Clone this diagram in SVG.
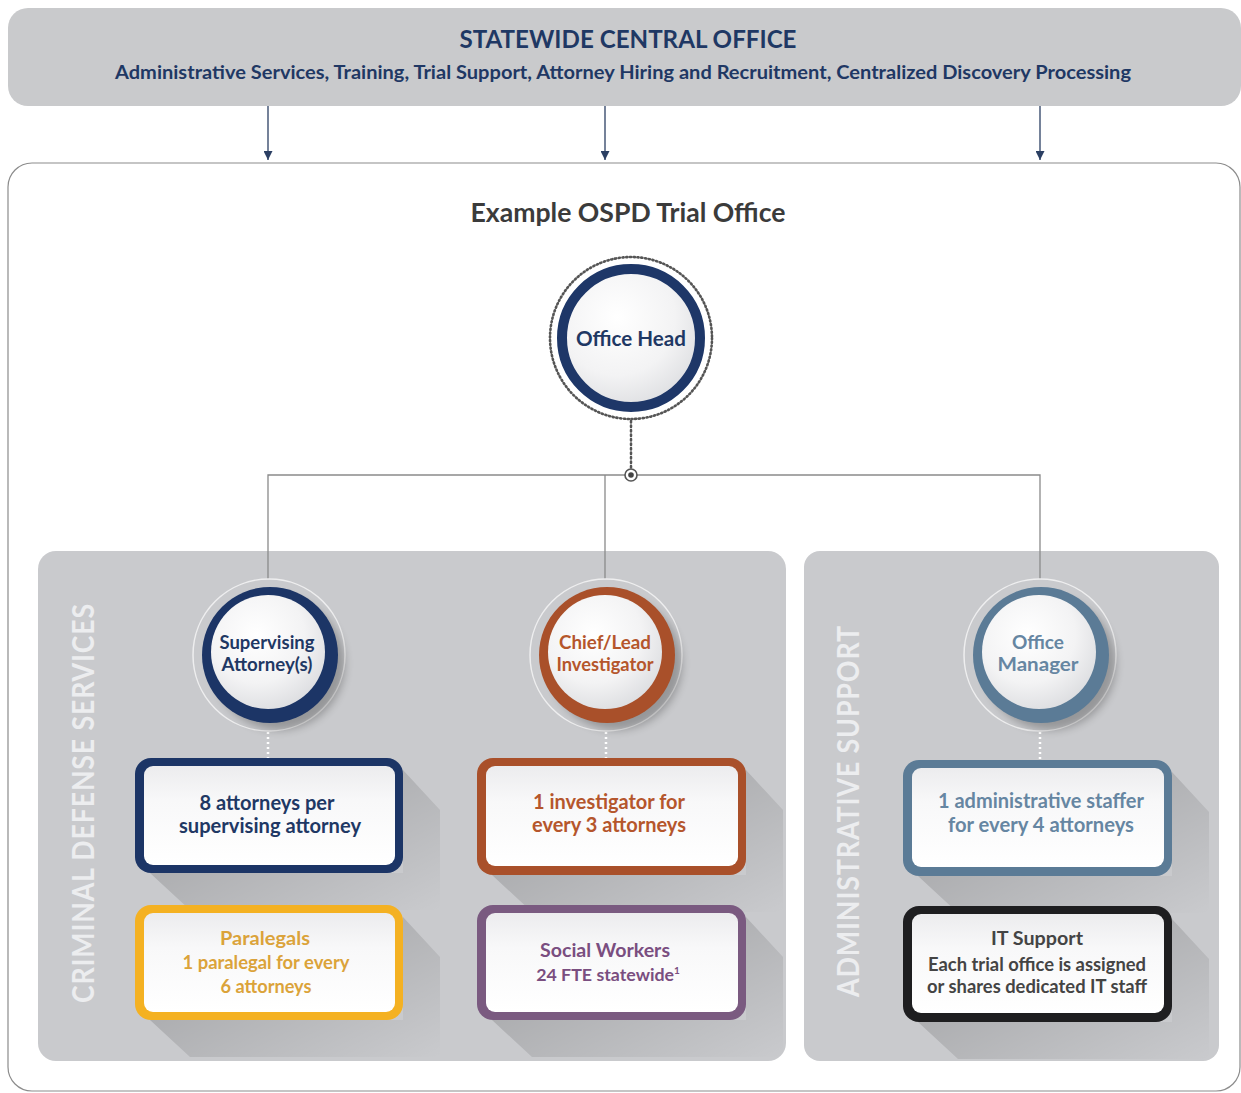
<svg xmlns="http://www.w3.org/2000/svg" width="1241" height="1093" viewBox="0 0 1241 1093">
<defs>
  <style>
    text { font-family: Lato, "Liberation Sans", sans-serif; font-weight: 700; text-anchor: middle; }
    .navy { fill: #1f3864; }
    .brown { fill: #b5562c; }
    .steel { fill: #6686a2; }
    .gold { fill: #dba33a; }
    .purple { fill: #7a4e80; }
    .dark { fill: #444444; }
    .vlabel { fill: #ecedef; font-size: 31px; letter-spacing: 1px; }
    .conn { stroke: #8a8a8a; stroke-width: 1.3; fill: none; }
    .wdot { stroke: #ffffff; stroke-width: 2.5; stroke-dasharray: 2 3; fill: none; }
    .ct { font-size: 18.5px; }
    .bt { font-size: 20px; }
    .ring { fill: #c9cacd; stroke: #eeeeef; stroke-width: 1.5; }
    .cshadow { fill: #000; opacity: 0.25; }
  </style>
  <marker id="arr" viewBox="0 0 10 10" refX="10" refY="5" markerWidth="9" markerHeight="9" orient="auto" markerUnits="userSpaceOnUse">
    <path d="M0,0 L10,5 L0,10 Z" fill="#2b3f63"/>
  </marker>
  <radialGradient id="face" cx="40%" cy="35%" r="70%">
    <stop offset="0" stop-color="#ffffff"/>
    <stop offset="0.6" stop-color="#f3f3f4"/>
    <stop offset="1" stop-color="#dcdde0"/>
  </radialGradient>
  <linearGradient id="boxface" x1="0" y1="0" x2="0" y2="1">
    <stop offset="0" stop-color="#ececee"/>
    <stop offset="0.35" stop-color="#f8f8f9"/>
    <stop offset="1" stop-color="#ffffff"/>
  </linearGradient>
  <linearGradient id="shade" x1="0" y1="0" x2="1" y2="1">
    <stop offset="0" stop-color="#000" stop-opacity="0.22"/>
    <stop offset="1" stop-color="#000" stop-opacity="0"/>
  </linearGradient>
  <filter id="blur" x="-30%" y="-30%" width="160%" height="160%">
    <feGaussianBlur stdDeviation="4"/>
  </filter>
</defs>

<!-- background -->
<rect x="0" y="0" width="1241" height="1093" fill="#ffffff"/>

<!-- Statewide central office banner -->
<g id="central-office">
  <rect x="8" y="8" width="1233" height="98" rx="20" fill="#c9cacc"/>
  <text x="628" y="48" class="navy" font-size="25" textLength="337" lengthAdjust="spacingAndGlyphs">STATEWIDE CENTRAL OFFICE</text>
  <text x="623" y="79" class="navy" font-size="18" textLength="1016" lengthAdjust="spacingAndGlyphs">Administrative Services, Training, Trial Support, Attorney Hiring and Recruitment, Centralized Discovery Processing</text>
</g>

<!-- Trial office frame -->
<g id="trial-office">
  <rect x="8" y="163" width="1232" height="928" rx="24" fill="#ffffff" stroke="#8c8c8c" stroke-width="1.2"/>
  <text x="628" y="222" fill="#3b3b3b" font-size="26" textLength="315" lengthAdjust="spacingAndGlyphs">Example OSPD Trial Office</text>
</g>

<!-- Panels -->
<g id="criminal-defense-panel">
  <rect x="38" y="551" width="748" height="510" rx="18" fill="#c9cacd"/>
  <text class="vlabel" transform="translate(94,803) rotate(-90)" textLength="400" lengthAdjust="spacingAndGlyphs">CRIMINAL DEFENSE SERVICES</text>
</g>
<g id="administrative-support-panel">
  <rect x="804" y="551" width="415" height="510" rx="16" fill="#c9cacd"/>
  <text class="vlabel" transform="translate(859,811) rotate(-90)" textLength="372" lengthAdjust="spacingAndGlyphs">ADMINISTRATIVE SUPPORT</text>
</g>

<!-- Connectors -->
<g id="connectors">
  <line x1="268" y1="106" x2="268" y2="160" stroke="#2b3f63" stroke-width="1.3" marker-end="url(#arr)"/>
  <line x1="605" y1="106" x2="605" y2="160" stroke="#2b3f63" stroke-width="1.3" marker-end="url(#arr)"/>
  <line x1="1040" y1="106" x2="1040" y2="160" stroke="#2b3f63" stroke-width="1.3" marker-end="url(#arr)"/>
  <line x1="631" y1="421" x2="631" y2="469" stroke="#555" stroke-width="2.5" stroke-dasharray="1.5 3" stroke-linecap="round"/>
  <path class="conn" d="M268,580 V475 H625 M637,475 H1040 V580 M605,475 V580"/>
  <circle cx="631" cy="475" r="6" fill="#ffffff" stroke="#555" stroke-width="1.6"/>
  <circle cx="631" cy="475" r="2.8" fill="#444"/>
  <line class="wdot" x1="268" y1="732" x2="268" y2="758"/>
  <line class="wdot" x1="606" y1="732" x2="606" y2="758"/>
  <line class="wdot" x1="1040" y1="732" x2="1040" y2="760"/>
</g>

<!-- Office Head -->
<g id="office-head">
  <circle cx="631" cy="338" r="81" fill="#ffffff" stroke="#555" stroke-width="2.6" stroke-dasharray="1.2 2.6" stroke-linecap="round"/>
  <circle cx="631" cy="338" r="69" fill="url(#face)" stroke="#1e3768" stroke-width="10"/>
  <text x="631" y="346" class="navy" font-size="21" textLength="110" lengthAdjust="spacingAndGlyphs">Office Head</text>
</g>

<!-- Supervising Attorney(s) -->
<g id="supervising-attorney">
  <circle class="ring" cx="269" cy="655" r="76"/>
  <circle class="cshadow" cx="279" cy="664" r="66" filter="url(#blur)"/>
  <circle cx="270" cy="655" r="68" fill="#1c3566"/>
  <circle cx="268" cy="652" r="57" fill="url(#face)"/>
  <text x="267" y="649" class="navy ct" textLength="95" lengthAdjust="spacingAndGlyphs">Supervising</text>
  <text x="267" y="671" class="navy ct" textLength="91" lengthAdjust="spacingAndGlyphs">Attorney(s)</text>
</g>

<!-- Chief/Lead Investigator -->
<g id="chief-investigator">
  <circle class="ring" cx="606" cy="655" r="76"/>
  <circle class="cshadow" cx="616" cy="664" r="66" filter="url(#blur)"/>
  <circle cx="607" cy="655" r="68" fill="#a9502a"/>
  <circle cx="605" cy="652" r="57" fill="url(#face)"/>
  <text x="605" y="649" class="brown ct" textLength="92" lengthAdjust="spacingAndGlyphs">Chief/Lead</text>
  <text x="605" y="671" class="brown ct" textLength="97" lengthAdjust="spacingAndGlyphs">Investigator</text>
</g>

<!-- Office Manager -->
<g id="office-manager">
  <circle class="ring" cx="1040" cy="655" r="76"/>
  <circle class="cshadow" cx="1050" cy="664" r="66" filter="url(#blur)"/>
  <circle cx="1041" cy="655" r="68" fill="#5b7b96"/>
  <circle cx="1039" cy="652" r="57" fill="url(#face)"/>
  <text x="1038" y="649" class="steel ct" textLength="52" lengthAdjust="spacingAndGlyphs">Office</text>
  <text x="1038" y="671" class="steel ct" textLength="81" lengthAdjust="spacingAndGlyphs">Manager</text>
</g>

<!-- Box: attorneys -->
<g id="attorneys-box">
  <polygon points="150,873 403,873 403,770 440,810 440,910 190,910" fill="url(#shade)"/>
  <rect x="135" y="758" width="268" height="115" rx="16" fill="#1c3566"/>
  <rect x="144" y="766" width="251" height="99" rx="9" fill="url(#boxface)"/>
  <text x="267" y="810" class="navy bt" textLength="135" lengthAdjust="spacingAndGlyphs">8 attorneys per</text>
  <text x="270" y="833" class="navy bt" textLength="182" lengthAdjust="spacingAndGlyphs">supervising attorney</text>
</g>

<!-- Box: investigators -->
<g id="investigators-box">
  <polygon points="492,875 746,875 746,770 783,810 783,912 532,912" fill="url(#shade)"/>
  <rect x="477" y="758" width="269" height="117" rx="16" fill="#a9502a"/>
  <rect x="486" y="766" width="252" height="100" rx="9" fill="url(#boxface)"/>
  <text x="609" y="809" class="brown bt" textLength="152" lengthAdjust="spacingAndGlyphs">1 investigator for</text>
  <text x="609" y="832" class="brown bt" textLength="154" lengthAdjust="spacingAndGlyphs">every 3 attorneys</text>
</g>

<!-- Box: administrative staff -->
<g id="admin-staff-box">
  <polygon points="918,876 1172,876 1172,772 1209,812 1209,913 958,913" fill="url(#shade)"/>
  <rect x="903" y="760" width="269" height="116" rx="16" fill="#5b7b96"/>
  <rect x="912" y="768" width="252" height="99" rx="9" fill="url(#boxface)"/>
  <text x="1041" y="808" class="steel bt" textLength="206" lengthAdjust="spacingAndGlyphs">1 administrative staffer</text>
  <text x="1041" y="832" class="steel bt" textLength="186" lengthAdjust="spacingAndGlyphs">for every 4 attorneys</text>
</g>

<!-- Box: paralegals -->
<g id="paralegals-box">
  <polygon points="150,1020 403,1020 403,917 440,957 440,1057 190,1057" fill="url(#shade)"/>
  <rect x="135" y="905" width="268" height="115" rx="16" fill="#f4b122"/>
  <rect x="144" y="913" width="251" height="99" rx="9" fill="url(#boxface)"/>
  <text x="265" y="945" class="gold" font-size="19" textLength="90" lengthAdjust="spacingAndGlyphs">Paralegals</text>
  <text x="266" y="969" class="gold" font-size="18.5" textLength="167" lengthAdjust="spacingAndGlyphs">1 paralegal for every</text>
  <text x="266" y="993" class="gold" font-size="18.5" textLength="91" lengthAdjust="spacingAndGlyphs">6 attorneys</text>
</g>

<!-- Box: social workers -->
<g id="social-workers-box">
  <polygon points="492,1020 746,1020 746,917 783,957 783,1057 532,1057" fill="url(#shade)"/>
  <rect x="477" y="905" width="269" height="115" rx="16" fill="#7a5a80"/>
  <rect x="486" y="913" width="252" height="99" rx="9" fill="url(#boxface)"/>
  <text x="605" y="957" class="purple" font-size="19.5" textLength="130" lengthAdjust="spacingAndGlyphs">Social Workers</text>
  <text x="608" y="981" class="purple" font-size="17.8">24 FTE statewide<tspan font-size="10" dy="-7">1</tspan></text>
</g>

<!-- Box: IT support -->
<g id="it-support-box">
  <polygon points="918,1022 1172,1022 1172,919 1209,959 1209,1059 958,1059" fill="url(#shade)"/>
  <rect x="903" y="906" width="269" height="116" rx="16" fill="#1e1e20"/>
  <rect x="912" y="914" width="252" height="99" rx="9" fill="url(#boxface)"/>
  <text x="1037" y="945" class="dark" font-size="19.5" textLength="92" lengthAdjust="spacingAndGlyphs">IT Support</text>
  <text x="1037" y="971" class="dark" font-size="18.2" textLength="218" lengthAdjust="spacingAndGlyphs">Each trial office is assigned</text>
  <text x="1037" y="993" class="dark" font-size="18.2" textLength="220" lengthAdjust="spacingAndGlyphs">or shares dedicated IT staff</text>
</g>
</svg>
